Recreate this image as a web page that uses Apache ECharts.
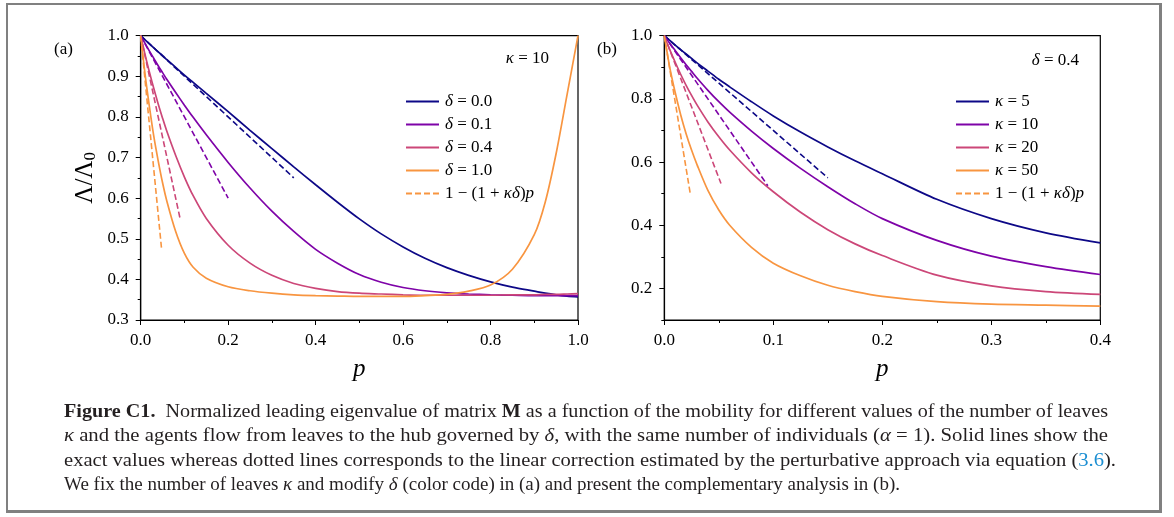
<!DOCTYPE html>
<html>
<head>
<meta charset="utf-8">
<script src="https://cdn.jsdelivr.net/npm/echarts@6/dist/echarts.min.js"></script>
<style>
  html, body { margin: 0; padding: 0; background: #fff; }
  #wrap { position: relative; width: 1174px; height: 517px; overflow: hidden; background: #fff; }
  #frame { position: absolute; left: 6px; top: 3px; width: 1151px; height: 505px;
           border: 2px solid #808080; border-right-width: 3px; border-bottom-width: 3px; box-sizing: content-box; }
  #chart { position: absolute; left: 0; top: 0; width: 1174px; height: 517px; }
  .cap { position: absolute; left: 64px; font-family: "Liberation Serif", serif; font-size: 18px;
         line-height: 24px; color: #231f20; white-space: nowrap; transform-origin: 0 50%; }
  .cap .blue { color: #1b8ed2; }
</style>
</head>
<body>
<div id="wrap">
  <div id="frame"></div>
  <div id="chart"></div>
  <div class="cap" id="c1" style="top:399px"><b>Figure C1.</b>&nbsp; Normalized leading eigenvalue of matrix <b>M</b> as a function of the mobility for different values of the number of leaves</div>
  <div class="cap" id="c2" style="top:423px"><i>κ</i> and the agents flow from leaves to the hub governed by <i>δ</i>, with the same number of individuals (<i>α</i> = 1). Solid lines show the</div>
  <div class="cap" id="c3" style="top:448px">exact values whereas dotted lines corresponds to the linear correction estimated by the perturbative approach via equation (<span class="blue">3.6</span>).</div>
  <div class="cap" id="c4" style="top:472px">We fix the number of leaves <i>κ</i> and modify <i>δ</i> (color code) in (a) and present the complementary analysis in (b).</div>
</div>
<script>
// ---------- Panel (a): kappa = 10, varying delta ----------
const pA = [0, 0.01, 0.02, 0.03, 0.04, 0.05, 0.06, 0.08, 0.1, 0.12, 0.15, 0.2, 0.25, 0.3, 0.35, 0.4, 0.45, 0.5, 0.55, 0.6, 0.65, 0.7, 0.75, 0.8, 0.85, 0.9, 0.925, 0.95, 0.975, 1.0];
const aDelta00 = [1.0, 0.99, 0.98, 0.97, 0.96, 0.951, 0.941, 0.922, 0.903, 0.885, 0.858, 0.813, 0.767, 0.722, 0.677, 0.633, 0.59, 0.549, 0.512, 0.48, 0.452, 0.429, 0.41, 0.394, 0.381, 0.371, 0.366, 0.362, 0.359, 0.357];
const aDelta01 = [1.0, 0.981, 0.962, 0.944, 0.926, 0.909, 0.892, 0.86, 0.829, 0.799, 0.756, 0.688, 0.625, 0.568, 0.518, 0.474, 0.44, 0.412, 0.393, 0.38, 0.372, 0.367, 0.364, 0.362, 0.361, 0.36, 0.36, 0.36, 0.36, 0.36];
const aDelta04 = [1.0, 0.953, 0.91, 0.87, 0.832, 0.797, 0.764, 0.705, 0.652, 0.606, 0.55, 0.484, 0.44, 0.41, 0.39, 0.378, 0.37, 0.366, 0.364, 0.362, 0.361, 0.361, 0.361, 0.361, 0.362, 0.362, 0.363, 0.363, 0.364, 0.365];
const aDelta10 = [1.0, 0.905, 0.825, 0.752, 0.692, 0.638, 0.592, 0.518, 0.464, 0.43, 0.403, 0.382, 0.372, 0.366, 0.362, 0.36, 0.359, 0.358, 0.358, 0.358, 0.36, 0.363, 0.371, 0.386, 0.425, 0.51, 0.59, 0.71, 0.855, 1.0];
// linear corrections 1-(1+kappa*delta)p (end points)
const aLinP00 = [0, 0.35],  aLin00 = [1.0, 0.65];
const aLinP01 = [0, 0.2],   aLin01 = [1.0, 0.6];
const aLinP04 = [0, 0.09],  aLin04 = [1.0, 0.55];
const aLinP10 = [0, 0.048], aLin10 = [1.0, 0.472];
const aNames = ['δ = 0.0', 'δ = 0.1', 'δ = 0.4', 'δ = 1.0'];

// ---------- Panel (b): delta = 0.4, varying kappa ----------
const pB = [0, 0.005, 0.01, 0.015, 0.02, 0.025, 0.03, 0.04, 0.05, 0.06, 0.08, 0.1, 0.125, 0.15, 0.175, 0.2, 0.25, 0.3, 0.35, 0.4];
const bKappa5  = [1.0, 0.985, 0.97, 0.956, 0.942, 0.928, 0.914, 0.888, 0.862, 0.838, 0.791, 0.746, 0.695, 0.648, 0.604, 0.563, 0.482, 0.421, 0.376, 0.344];
const bKappa10 = [1.0, 0.976, 0.953, 0.93, 0.908, 0.887, 0.866, 0.827, 0.791, 0.758, 0.698, 0.643, 0.58, 0.522, 0.468, 0.421, 0.352, 0.302, 0.269, 0.244];
const bKappa20 = [1.0, 0.956, 0.916, 0.878, 0.843, 0.811, 0.781, 0.727, 0.68, 0.638, 0.566, 0.506, 0.441, 0.386, 0.341, 0.304, 0.242, 0.208, 0.19, 0.181];
const bKappa50 = [1.0, 0.9, 0.82, 0.75, 0.69, 0.638, 0.592, 0.51, 0.448, 0.4, 0.33, 0.28, 0.24, 0.21, 0.19, 0.175, 0.158, 0.15, 0.147, 0.144];
const bLinP5  = [0, 0.15],  bLin5  = [1.0, 0.55];
const bLinP10 = [0, 0.095], bLin10 = [1.0, 0.525];
const bLinP20 = [0, 0.052], bLin20 = [1.0, 0.532];
const bLinP50 = [0, 0.024], bLin50 = [1.0, 0.496];
const bNames = ['κ = 5', 'κ = 10', 'κ = 20', 'κ = 50'];

// tick values
const bYMajor = [0.2, 0.4, 0.6, 0.8, 1.0];
const bYMinor = [0.1, 0.3, 0.5, 0.7, 0.9];

const colors = ['#0d0887', '#7e03a8', '#cc4778', '#f89540'];
const SERIF = '"Liberation Serif", "DejaVu Serif", serif';

function pairs(xs, ys) { return xs.map((x, i) => [x, ys[i]]); }

function solid(name, xs, ys, color, gi) {
  return {
    name, type: 'line', xAxisIndex: gi, yAxisIndex: gi === 0 ? 0 : 1,
    data: pairs(xs, ys), symbol: 'none', showSymbol: false,
    smooth: 0.3,
    lineStyle: { color, width: 1.7 }, itemStyle: { color }, z: 3, silent: true
  };
}
function dashed(name, xs, ys, color, gi) {
  return {
    name, type: 'line', xAxisIndex: gi, yAxisIndex: gi === 0 ? 0 : 1,
    data: pairs(xs, ys), symbol: 'none', showSymbol: false,
    lineStyle: { color, width: 1.6, type: [6, 3] }, itemStyle: { color }, z: 4, silent: true
  };
}

const tickLabelX = { fontFamily: SERIF, fontSize: 17, color: '#000', margin: 12 };
const tickLabelY = { fontFamily: SERIF, fontSize: 17, color: '#000', margin: 12 };
const axisLine = { show: true, onZero: false, lineStyle: { color: '#000', width: 1.2 } };
const richI = { i: { fontFamily: SERIF, fontStyle: 'italic', fontSize: 17, color: '#000' } };

function legendFmt(name) {
  if (name === 'a_lin3' || name === 'b_lin3') return '1 − (1 + {i|κδ}){i|p}';
  if (name.startsWith('δ')) return '{i|δ}' + name.slice(1);
  if (name.startsWith('κ')) return '{i|κ}' + name.slice(1);
  return name;
}
function legend(left, names) {
  return {
    orient: 'vertical', left, top: 88, itemWidth: 33, itemHeight: 12, itemGap: 6,
    data: names, formatter: legendFmt, selectedMode: false,
    itemStyle: { opacity: 0 },
    textStyle: { fontFamily: SERIF, fontSize: 17, color: '#000', padding: [0, 0, 0, 1], rich: richI }
  };
}

const option = {
  animation: false,
  backgroundColor: 'transparent',
  grid: [
    { left: 140.7, top: 35.7, width: 437.3, height: 284.3, show: true, borderColor: '#000', borderWidth: 1.2, backgroundColor: 'transparent' },
    { left: 664.3, top: 35.7, width: 436, height: 284.3, show: true, borderColor: '#000', borderWidth: 1.2, backgroundColor: 'transparent' }
  ],
  xAxis: [
    { gridIndex: 0, type: 'value', min: 0, max: 1, interval: 0.2,
      axisLine, axisTick: { show: true, length: 5, lineStyle: { color: '#000', width: 1 } },
      minorTick: { show: true, splitNumber: 2, length: 3, lineStyle: { color: '#000', width: 1 } },
      splitLine: { show: false }, minorSplitLine: { show: false },
      axisLabel: Object.assign({ formatter: v => v.toFixed(1) }, tickLabelX),
      name: 'p', nameLocation: 'middle', nameGap: 37,
      nameTextStyle: { fontFamily: SERIF, fontStyle: 'italic', fontSize: 25, color: '#000' } },
    { gridIndex: 1, type: 'value', min: 0, max: 0.4, interval: 0.1,
      axisLine, axisTick: { show: true, length: 5, lineStyle: { color: '#000', width: 1 } },
      minorTick: { show: true, splitNumber: 2, length: 3, lineStyle: { color: '#000', width: 1 } },
      splitLine: { show: false }, minorSplitLine: { show: false },
      axisLabel: Object.assign({ formatter: v => v.toFixed(1) }, tickLabelX),
      name: 'p', nameLocation: 'middle', nameGap: 37,
      nameTextStyle: { fontFamily: SERIF, fontStyle: 'italic', fontSize: 25, color: '#000' } }
  ],
  yAxis: [
    { gridIndex: 0, type: 'value', min: 0.3, max: 1.0, interval: 0.1, position: 'left',
      axisLine, axisTick: { show: true, length: 5, lineStyle: { color: '#000', width: 1 } },
      minorTick: { show: true, splitNumber: 2, length: 3, lineStyle: { color: '#000', width: 1 } },
      splitLine: { show: false }, minorSplitLine: { show: false },
      axisLabel: Object.assign({ formatter: v => v.toFixed(1) }, tickLabelY),
      name: 'Λ/Λ{s|0}', nameLocation: 'middle', nameGap: 42, nameRotate: 90,
      nameTextStyle: { fontFamily: SERIF, fontSize: 25, color: '#000',
        rich: { s: { fontFamily: SERIF, fontSize: 17, color: '#000', padding: [9, 0, 0, 0] } } } },
    { gridIndex: 1, type: 'value', min: 0.1, max: 1.0, interval: 0.1, position: 'left',
      axisLine, axisTick: { show: true, length: 5, customValues: bYMajor, lineStyle: { color: '#000', width: 1 } },
      minorTick: { show: false }, splitLine: { show: false },
      axisLabel: Object.assign({ customValues: bYMajor, formatter: v => v.toFixed(1) }, tickLabelY) },
    { gridIndex: 1, type: 'value', min: 0.1, max: 1.0, interval: 0.1, position: 'left',
      axisLine: { show: false }, axisLabel: { show: false }, splitLine: { show: false },
      axisTick: { show: true, length: 3, customValues: bYMinor, lineStyle: { color: '#000', width: 1 } } }
  ],
  legend: [
    legend(400, aNames.concat(['a_lin3'])),
    legend(950, bNames.concat(['b_lin3']))
  ],
  graphic: [
    { type: 'text', left: 54, top: 41, style: { text: '(a)', font: '17px ' + SERIF, fill: '#000' } },
    { type: 'text', left: 597, top: 41, style: { text: '(b)', font: '17px ' + SERIF, fill: '#000' } },
    { type: 'text', right: 1174 - 549, top: 50, style: { text: '{i|κ} = 10', font: '17px ' + SERIF, fill: '#000', rich: richI } },
    { type: 'text', right: 1174 - 1079, top: 52, style: { text: '{i|δ} = 0.4', font: '17px ' + SERIF, fill: '#000', rich: richI } }
  ],
  series: [
    solid(aNames[0], pA, aDelta00, colors[0], 0),
    solid(aNames[1], pA, aDelta01, colors[1], 0),
    solid(aNames[2], pA, aDelta04, colors[2], 0),
    solid(aNames[3], pA, aDelta10, colors[3], 0),
    dashed('a_lin0', aLinP00, aLin00, colors[0], 0),
    dashed('a_lin1', aLinP01, aLin01, colors[1], 0),
    dashed('a_lin2', aLinP04, aLin04, colors[2], 0),
    dashed('a_lin3', aLinP10, aLin10, colors[3], 0),
    solid(bNames[0], pB, bKappa5, colors[0], 1),
    solid(bNames[1], pB, bKappa10, colors[1], 1),
    solid(bNames[2], pB, bKappa20, colors[2], 1),
    solid(bNames[3], pB, bKappa50, colors[3], 1),
    dashed('b_lin0', bLinP5, bLin5, colors[0], 1),
    dashed('b_lin1', bLinP10, bLin10, colors[1], 1),
    dashed('b_lin2', bLinP20, bLin20, colors[2], 1),
    dashed('b_lin3', bLinP50, bLin50, colors[3], 1)
  ]
};

const chart = echarts.init(document.getElementById('chart'), null, { renderer: 'canvas' });
chart.setOption(option);

// caption: each line compressed horizontally to span its measured width in the reference
(function () {
  const targets = { c1: 1044, c2: 1044, c3: 1052, c4: 836 };
  Object.keys(targets).forEach(id => {
    const el = document.getElementById(id);
    const natural = el.getBoundingClientRect().width;
    el.style.transform = 'scaleX(' + (targets[id] / natural) + ')';
  });
})();
</script>
</body>
</html>
